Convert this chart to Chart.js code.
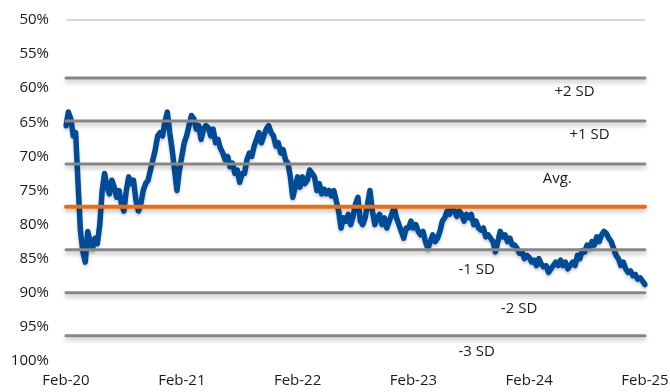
<!DOCTYPE html>
<html>
<head>
<meta charset="utf-8">
<script src="https://cdn.jsdelivr.net/npm/chart.js@4.4.1/dist/chart.umd.min.js"></script>
<style>
  html, body { margin: 0; padding: 0; background: #fff; }
  #wrap { width: 670px; height: 392px; position: relative; }
</style>
</head>
<body>
<div id="wrap"><canvas id="chart"></canvas></div>
<script>
// --- data ---
const tickLabels = ['Feb-20', 'Feb-21', 'Feb-22', 'Feb-23', 'Feb-24', 'Feb-25'];
const stepsPerYear = 48; // quarter-month samples

// ratio (%), one value per quarter month from Feb-20 to Feb-25
const ratio = [
  65.5, 63.5, 64.5, 67.0, 66.5, 74.0, 81.0, 84.0, 85.5, 81.0, 82.5, 83.5,
  82.0, 82.8, 80.0, 75.0, 72.5, 74.5, 75.5, 73.5, 74.5, 76.0, 75.0, 77.0,
  78.0, 75.0, 73.0, 74.0, 73.5, 76.5, 78.0, 77.0, 75.0, 74.0, 73.5, 72.0,
  70.5, 69.0, 67.0, 66.5, 67.0, 65.0, 63.5, 66.5, 69.0, 72.0, 75.0, 72.0,
  70.0, 68.0, 67.0, 65.5, 64.0, 64.5, 66.0, 65.5, 67.5, 66.0, 65.5, 65.8,
  67.0, 66.0, 68.0, 67.5, 68.8, 69.5, 70.5, 70.0, 71.5, 71.0, 72.5, 72.0,
  73.8, 72.5, 72.5, 70.5, 69.5, 70.0, 68.5, 67.5, 66.5, 68.0, 67.0, 66.0,
  65.5, 66.5, 67.0, 68.5, 68.0, 69.5, 69.0, 70.5, 71.0, 73.0, 76.0, 74.5,
  73.0, 74.5, 73.0, 74.0, 73.5, 72.0, 72.5, 73.0, 75.0, 74.0, 75.5, 74.8,
  75.5, 75.0, 75.8, 75.0, 76.5, 78.0, 80.5, 79.0, 79.5, 78.5, 80.0, 78.8,
  77.0, 76.0, 79.5, 80.0, 79.0, 77.0, 75.0, 78.0, 80.0, 79.0, 78.5, 80.0,
  79.0, 80.5, 79.5, 78.5, 77.5, 79.0, 80.0, 81.0, 82.0, 80.5, 80.5, 79.5,
  80.5, 80.0, 81.0, 81.5, 81.0, 82.5, 83.5, 82.5, 81.5, 82.5, 82.0, 81.0,
  79.5, 79.0, 78.0, 78.5, 77.5, 78.0, 78.8, 78.0, 78.5, 79.5, 78.5, 79.0,
  78.5, 80.0, 79.5, 80.5, 80.8, 80.5, 81.8, 81.5, 82.0, 82.5, 84.0, 82.5,
  81.0, 81.8, 81.5, 82.5, 82.0, 83.0, 83.0, 83.5, 84.2, 84.0, 85.0, 84.5,
  84.8, 85.5, 85.2, 86.0, 85.0, 85.8, 86.2, 86.0, 87.0, 86.5, 86.0, 85.5,
  86.0, 85.2, 86.0, 85.5, 86.5, 86.0, 85.5, 86.0, 84.5, 85.0, 83.8, 84.0,
  83.0, 83.5, 82.5, 83.0, 81.8, 82.5, 81.5, 81.0, 81.3, 82.0, 82.5, 83.5,
  84.5, 85.0, 86.0, 85.5, 86.5, 87.0, 86.8, 87.5, 87.3, 88.0, 87.8, 88.3,
  88.8
];

// horizontal reference levels
const bandNames  = ['+2 SD', '+1 SD', 'Avg.', 'current', '-1 SD', '-2 SD', '-3 SD'];
const bandLevels = [58.5, 64.8, 71.1, 77.4, 83.7, 90.0, 96.3];

// category labels for every sample
const dates = ratio.map((v, i) => i % stepsPerYear === 0 ? tickLabels[i / stepsPerYear] : '');

// where the band captions sit: [name, x index, y value]
const captions = [
  ['+2 SD', 210.8, 60.5],
  ['+1 SD', 217.0, 66.8],
  ['Avg.', 203.6, 73.3],
  ['-1 SD', 170.2, 86.6],
  ['-2 SD', 187.8, 92.3],
  ['-3 SD', 170.2, 98.7]
];

const FONT = '"Open Sans", "DejaVu Sans", sans-serif';

const bandPlugin = {
  id: 'bands',
  beforeDatasetDraw(chart) {
    const ctx = chart.ctx;
    ctx.save();
    ctx.shadowColor = 'rgba(0,0,0,0.22)';
    ctx.shadowBlur = 3;
    ctx.shadowOffsetY = 2;
  },
  afterDatasetDraw(chart) {
    chart.ctx.restore();
  },
  afterDatasetsDraw(chart) {
    const { ctx, chartArea, scales } = chart;
    const y = scales.y, x = scales.x;
    ctx.save();
    bandLevels.forEach((lvl, i) => {
      const py = y.getPixelForValue(lvl);
      const isCurrent = bandNames[i] === 'current';
      ctx.beginPath();
      ctx.lineCap = 'round';
      ctx.lineWidth = isCurrent ? 4 : 3;
      ctx.strokeStyle = isCurrent ? '#EC6C0E' : '#878787';
      ctx.shadowColor = 'rgba(0,0,0,0.25)';
      ctx.shadowBlur = 4;
      ctx.shadowOffsetY = 3;
      ctx.moveTo(chartArea.left, py);
      ctx.lineTo(chartArea.right, py);
      ctx.stroke();
    });
    ctx.shadowColor = 'transparent';
    ctx.fillStyle = '#1a1a1a';
    ctx.font = '15px ' + FONT;
    ctx.textAlign = 'center';
    ctx.textBaseline = 'middle';
    captions.forEach(([name, xi, yv]) => {
      ctx.fillText(name, x.getPixelForValue(xi), y.getPixelForValue(yv));
    });
    ctx.restore();
  }
};

new Chart(document.getElementById('chart'), {
  type: 'line',
  data: {
    labels: dates,
    datasets: [{
      data: ratio,
      borderColor: '#004B97',
      borderWidth: 5.5,
      borderJoinStyle: 'round',
      borderCapStyle: 'round',
      pointRadius: 0,
      tension: 0,
      fill: false
    }]
  },
  options: {
    responsive: true,
    maintainAspectRatio: false,
    animation: false,
    layout: { padding: { top: 20, right: 25, left: 0, bottom: 0 } },
    plugins: { legend: { display: false }, tooltip: { enabled: false } },
    scales: {
      x: {
        type: 'category',
        offset: false,
        border: { display: false },
        grid: { display: false, drawTicks: false },
        ticks: {
          autoSkip: false,
          maxRotation: 0,
          padding: 11,
          color: '#1a1a1a',
          font: { family: FONT, size: 15 },
          callback(val, idx) { return idx % stepsPerYear === 0 ? tickLabels[idx / stepsPerYear] : null; }
        },
        afterFit(scale) { scale.height = 31; scale.paddingLeft = 0; scale.paddingRight = 0; }
      },
      y: {
        reverse: true,
        min: 50,
        max: 100,
        border: { display: false },
        grid: {
          drawTicks: false,
          lineWidth: 2,
          color: ctx => ctx.tick && ctx.tick.value === 50 ? '#D9D9D9' : 'rgba(0,0,0,0)'
        },
        ticks: {
          stepSize: 5,
          padding: 17,
          color: '#1a1a1a',
          font: { family: FONT, size: 15 },
          callback: v => v + '%'
        },
        afterFit(scale) { scale.width = 66; scale.paddingTop = 0; scale.paddingBottom = 0; }
      }
    }
  },
  plugins: [bandPlugin]
});
</script>
</body>
</html>
